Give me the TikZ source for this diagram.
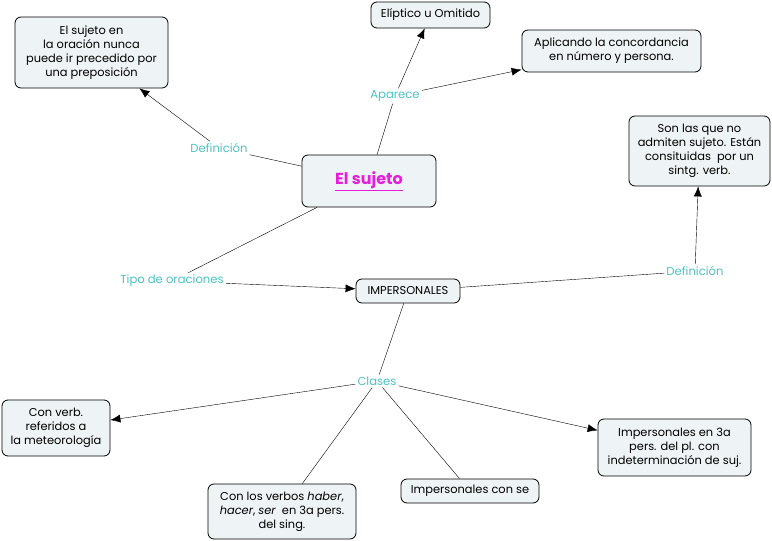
\documentclass[tikz,border=0pt]{standalone}
\usepackage{fontspec}
\setmainfont{Poppins}
\usepackage{xcolor}
\usetikzlibrary{arrows.meta}
\definecolor{boxfill}{HTML}{EEF3F5}
\definecolor{linkcol}{HTML}{4CC4C4}
\definecolor{titlecol}{HTML}{E61EDC}
\tikzset{>={Latex[length=10pt,width=8pt]}}
\tikzset{
  concept/.style={draw, fill=boxfill, rounded corners=6pt, align=center,
    font=\fontsize{11.4}{14}\selectfont, line width=0.8pt, inner sep=2pt},
  link/.style={text=linkcol, fill=white, inner sep=2pt,
    font=\fontsize{11.6}{13}\selectfont}}

\begin{document}
\begin{tikzpicture}[x=1pt,y=-1pt]
\useasboundingbox (0,0) rectangle (772,541);
% concepts
\node[concept, minimum width=134pt, minimum height=52pt] (suj) at (369,181)
  {\fontsize{16}{18}\selectfont\bfseries\color{titlecol}\underline{El sujeto}};
\node[concept, minimum width=153pt, minimum height=71pt] (prep) at (91.5,52.5)
  {El sujeto en\\la oración nunca\\puede ir precedido por\\una preposición};
\node[concept, minimum width=119pt, minimum height=26pt] (elip) at (430.5,15) {Elíptico u Omitido};
\node[concept, minimum width=179pt, minimum height=42pt] (conc) at (611.5,51)
  {Aplicando la concordancia\\en número y persona.};
\node[concept, minimum width=141pt, minimum height=70pt] (nosuj) at (699.5,151)
  {Son las que no\\admiten sujeto. Están\\consituidas\ \ por un\\sintg. verb.};
\node[concept, minimum width=104pt, minimum height=24pt] (imp) at (408,291) {IMPERSONALES};
\node[concept, minimum width=108pt, minimum height=56pt] (meteo) at (56,428)
  {Con verb.\\referidos a\\la meteorología};
\node[concept, minimum width=148pt, minimum height=55pt] (haber) at (282,511.5)
  {Con los verbos \textit{haber},\\\textit{hacer}, \textit{ser}\ \ en 3a pers.\\del sing.};
\node[concept, minimum width=138pt, minimum height=24pt] (conse) at (470,491) {Impersonales con se};
\node[concept, minimum width=153pt, minimum height=57pt] (plural) at (674.5,447.5)
  {Impersonales en 3a\\pers. del pl. con\\indeterminación de suj.};
% linking phrases
\node[link] (aparece) at (395,96) {Aparece};
\node[link] (def1) at (219,148) {Definición};
\node[link] (tipo) at (172,281) {Tipo de oraciones};
\node[link] (def2) at (695,271) {Definición};
\node[link] (clases) at (377,381) {Clases};
% connectors
\draw (suj) -- (aparece);
\draw[->] (aparece) -- (elip);
\draw[->] (aparece) -- (conc);
\draw (suj) -- (def1);
\draw[->] (def1) -- (prep);
\draw (suj) -- (tipo);
\draw[->] (tipo) -- (imp);
\draw (imp) -- (def2);
\draw[->] (def2) -- (nosuj);
\draw (imp) -- (clases);
\draw[->] (clases) -- (meteo);
\draw (clases) -- (haber);
\draw (clases) -- (conse);
\draw[->] (clases) -- (plural);
\end{tikzpicture}
\end{document}
